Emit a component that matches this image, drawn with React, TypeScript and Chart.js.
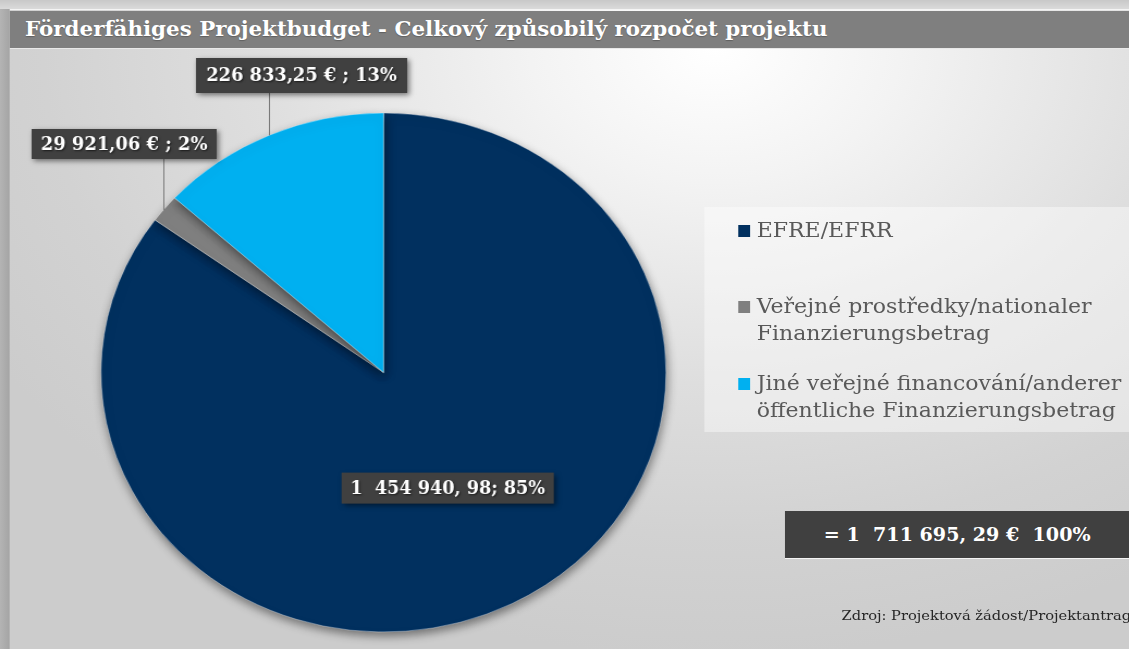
import React, { useEffect, useRef } from "react";
import { Chart, registerables } from "chart.js";

Chart.register(...registerables);

// ---------- data ----------
const chartTitle = "Förderfähiges Projektbudget - Celkový způsobilý rozpočet projektu";
const categories: string[][] = [
  ["EFRE/EFRR"],
  ["Veřejné prostředky/nationaler", "Finanzierungsbetrag"],
  ["Jiné veřejné financování/anderer", "öffentliche Finanzierungsbetrag"],
];
const values = [1454940.98, 29921.06, 226833.25];
const valueLabels = ["1  454 940, 98; 85%", "29 921,06 € ; 2%", "226 833,25 € ; 13%"];
const totalLabel = "= 1  711 695, 29 €  100%";
const sourceLabel = "Zdroj: Projektová žádost/Projektantrag";

// ---------- styles / layout ----------
const sliceColors = ["#01305f", "#7f7f7f", "#00b0f0"];
const SERIF = "'DejaVu Serif', 'Liberation Serif', serif";
const DESIGN_W = 1037;
const H = 649;
const STRETCH = 1129 / DESIGN_W;

// label boxes (design px): centre, size, text width, leader x
const labelLayout = [
  { inside: true, w: 195, h: 31, tw: 179 },
  { inside: false, cx: 114, cy: 144, w: 170, h: 30, tw: 153, leaderX: 150 },
  { inside: false, cx: 277, cy: 75.5, w: 194, h: 35, tw: 175, leaderX: 247 },
];
const LABEL_FONT = 18;

let measureCtx: CanvasRenderingContext2D | null = null;
function textScale(text: string, weight: string, size: number, target: number): number {
  if (!measureCtx) measureCtx = document.createElement("canvas").getContext("2d");
  if (!measureCtx) return 1;
  measureCtx.font = `${weight} ${size}px ${SERIF}`;
  const w = measureCtx.measureText(text).width;
  return w > 0 ? target / w : 1;
}

function FitText(props: { text: string; weight: string; size: number; target: number; origin?: string }) {
  const k = textScale(props.text, props.weight, props.size, props.target);
  return (
    <span
      style={{
        display: "inline-block",
        fontWeight: props.weight as any,
        fontSize: props.size,
        whiteSpace: "pre",
        transform: `scaleX(${k})`,
        transformOrigin: props.origin || "0 50%",
      }}
    >
      {props.text}
    </span>
  );
}

const labelPlugin = {
  id: "valueLabels",
  beforeDatasetsDraw(chart: any) {
    const ctx = chart.ctx;
    ctx.save();
    ctx.shadowColor = "rgba(0,0,0,0.45)";
    ctx.shadowBlur = 10;
    ctx.shadowOffsetX = 1;
    ctx.shadowOffsetY = 4;
  },
  afterDatasetsDraw(chart: any) {
    const ctx = chart.ctx;
    ctx.restore();
    const meta = chart.getDatasetMeta(0);
    meta.data.forEach((arc: any, i: number) => {
      const L: any = labelLayout[i];
      const p = arc.getProps(["x", "y", "outerRadius"], true);
      let cx: number, cy: number;
      if (L.inside) {
        const pos = arc.tooltipPosition(true);
        cx = pos.x;
        cy = pos.y;
      } else {
        cx = L.cx;
        cy = L.cy;
        const dx = L.leaderX - p.x;
        const yEdge = p.y - Math.sqrt(Math.max(p.outerRadius * p.outerRadius - dx * dx, 0));
        ctx.save();
        ctx.strokeStyle = "#7a7a7a";
        ctx.lineWidth = 1;
        ctx.beginPath();
        ctx.moveTo(L.leaderX + 0.5, cy + L.h / 2);
        ctx.lineTo(L.leaderX + 0.5, yEdge);
        ctx.stroke();
        ctx.restore();
      }
      ctx.save();
      ctx.shadowColor = "rgba(0,0,0,0.5)";
      ctx.shadowBlur = 5;
      ctx.shadowOffsetX = 2;
      ctx.shadowOffsetY = 2;
      ctx.fillStyle = "#404040";
      ctx.fillRect(cx - L.w / 2, cy - L.h / 2, L.w, L.h);
      ctx.restore();
      ctx.save();
      const k = textScale(valueLabels[i], "bold", LABEL_FONT, L.tw);
      ctx.translate(cx, cy + 1);
      ctx.scale(k, 1);
      ctx.fillStyle = "#ffffff";
      ctx.font = `bold ${LABEL_FONT}px ${SERIF}`;
      ctx.textAlign = "center";
      ctx.textBaseline = "middle";
      ctx.shadowColor = "rgba(0,0,0,0.6)";
      ctx.shadowBlur = 2;
      ctx.shadowOffsetX = 1;
      ctx.shadowOffsetY = 1;
      ctx.fillText(valueLabels[i], 0, 0);
      ctx.restore();
    });
  },
};

export default function App() {
  const canvasRef = useRef<HTMLCanvasElement | null>(null);

  useEffect(() => {
    const canvas = canvasRef.current;
    if (!canvas) return;
    const chart = new Chart(canvas, {
      type: "pie",
      data: {
        labels: categories,
        datasets: [
          {
            data: values,
            backgroundColor: sliceColors,
            borderColor: "rgba(255,255,255,0.35)",
            borderWidth: 1,
          },
        ],
      },
      options: {
        responsive: false,
        animation: false,
        devicePixelRatio: 1,
        layout: { padding: { left: 92.3, right: 424.7, top: 112.5, bottom: 16.5 } },
        plugins: {
          legend: { display: false },
          tooltip: { enabled: false },
          title: { display: false },
        },
      },
      plugins: [labelPlugin],
    });
    return () => chart.destroy();
  }, []);

  const legendTops = [231, 307, 384];
  const legendScaleRef = categories[2][0];
  const legendK = textScale(legendScaleRef, "normal", 19.5, 335);

  return (
    <div
      style={{
        position: "absolute",
        left: 0,
        top: 0,
        width: DESIGN_W,
        height: H,
        overflow: "hidden",
        transform: `scaleX(${STRETCH})`,
        transformOrigin: "0 0",
        background: "#cfcfcf",
        fontFamily: SERIF,
      }}
    >
      {/* left shadow strip */}
      <div style={{ position: "absolute", left: 0, top: 0, width: 9, height: H, background: "linear-gradient(to right, #b4b4b4, #a4a4a4)" }} />
      {/* top strip */}
      <div style={{ position: "absolute", left: 0, top: 0, width: DESIGN_W, height: 9, background: "linear-gradient(to bottom, #c8c8c8, #dadada)" }} />
      {/* panel */}
      <div
        style={{
          position: "absolute",
          left: 9,
          top: 9,
          width: DESIGN_W - 9,
          height: H - 9,
          borderTop: "1px solid #f4f4f4",
          background: "radial-gradient(ellipse 75% 95% at 63% 6%, #ffffff 0%, #f3f3f3 22%, #dedede 55%, #d2d2d2 80%, #cccccc 100%)",
        }}
      />
      {/* title bar */}
      <div
        style={{
          position: "absolute",
          left: 9,
          top: 11,
          width: DESIGN_W - 9,
          height: 38,
          background: "#7f7f7f",
          borderBottom: "1px solid #e8e8e8",
          color: "#ffffff",
          lineHeight: "38px",
          paddingLeft: 14,
          boxSizing: "border-box",
          whiteSpace: "nowrap",
          textShadow: "0 1px 1px rgba(0,0,0,0.25)",
        }}
      >
        <FitText text={chartTitle} weight="bold" size={19.5} target={737} />
      </div>
      {/* legend background */}
      <div style={{ position: "absolute", left: 647, top: 207, width: DESIGN_W - 647, height: 225, background: "rgba(255,255,255,0.42)" }} />
      <canvas ref={canvasRef} width={DESIGN_W} height={H} style={{ position: "absolute", left: 0, top: 0, width: DESIGN_W, height: H }} />
      {/* legend */}
      {categories.map((lines, i) => (
        <div key={i}>
          <div style={{ position: "absolute", left: 678, top: legendTops[i] - 6, width: 11, height: 12, background: sliceColors[i] }} />
          {lines.map((ln, j) => (
            <div
              key={j}
              style={{
                position: "absolute",
                left: 695,
                top: legendTops[i] + j * 27 - 14,
                height: 28,
                lineHeight: "28px",
                fontSize: 19.5,
                color: "#595959",
                whiteSpace: "nowrap",
                transform: `scaleX(${legendK})`,
                transformOrigin: "0 50%",
              }}
            >
              {ln}
            </div>
          ))}
        </div>
      ))}
      {/* total box */}
      <div
        style={{
          position: "absolute",
          left: 721,
          top: 511,
          width: DESIGN_W - 721,
          height: 47,
          background: "#404040",
          color: "#ffffff",
          lineHeight: "47px",
          textAlign: "center",
          whiteSpace: "pre",
        }}
      >
        <FitText text={totalLabel} weight="bold" size={18.5} target={245} origin="50% 50%" />
      </div>
      {/* source */}
      <div style={{ position: "absolute", left: 773, top: 605, color: "#262626", whiteSpace: "nowrap", lineHeight: "20px" }}>
        <FitText text={sourceLabel} weight="normal" size={12.8} target={266} />
      </div>
    </div>
  );
}
